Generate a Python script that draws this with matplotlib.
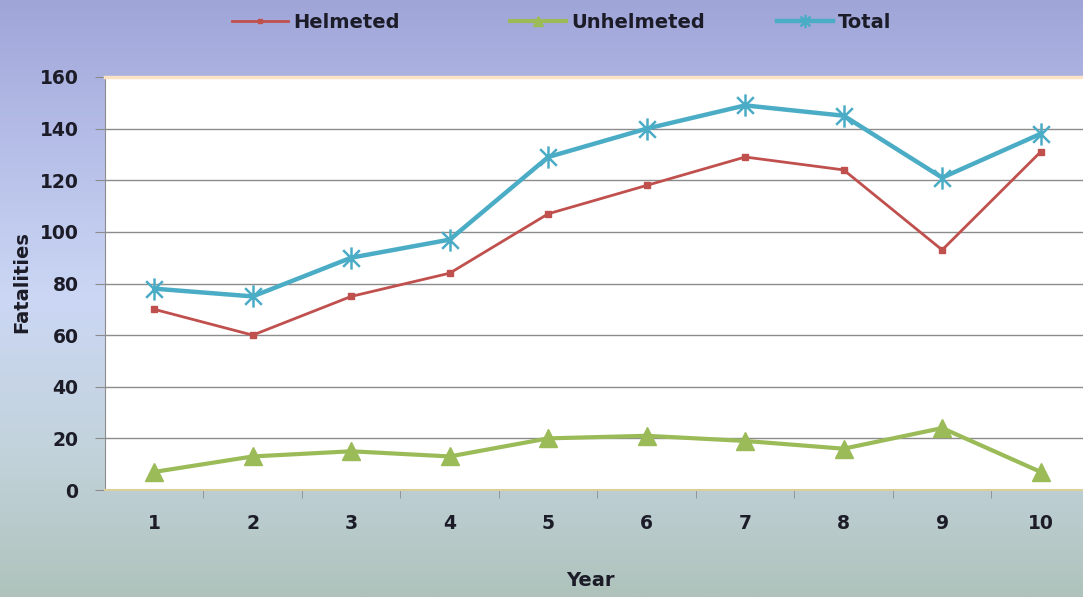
import numpy as np
import matplotlib
matplotlib.use("Agg")
import matplotlib.pyplot as plt
from matplotlib.colors import LinearSegmentedColormap
from matplotlib.path import Path

# data
years = [1, 2, 3, 4, 5, 6, 7, 8, 9, 10]
helmeted = [70, 60, 75, 84, 107, 118, 129, 124, 93, 131]
unhelmeted = [7, 13, 15, 13, 20, 21, 19, 16, 24, 7]
total = [78, 75, 90, 97, 129, 140, 149, 145, 121, 138]
series_names = ["Helmeted", "Unhelmeted", "Total"]

RED = "#c0504d"
GREEN = "#9bbb59"
CYAN = "#4bacc6"
TEXT = "#1c1c28"

# excel style star: vertical bar plus an X
star = Path([(0, -1), (0, 1), (-0.75, -0.75), (0.75, 0.75), (-0.75, 0.75), (0.75, -0.75)],
            [Path.MOVETO, Path.LINETO] * 3)

fig = plt.figure(figsize=(10.83, 5.97), dpi=100)

# background gradient (lavender at top -> pale blue -> grey-green at bottom)
bg = fig.add_axes([0, 0, 1, 1], zorder=-10)
grad = LinearSegmentedColormap.from_list(
    "bg", ["#a0a5d8", "#b6bfe8", "#cbd7f4", "#c3d3dc", "#afc3bc"])
bg.imshow(np.linspace(0, 1, 256).reshape(-1, 1), aspect="auto", cmap=grad,
          extent=[0, 1, 0, 1])
bg.set_xlim(0, 1)
bg.set_ylim(0, 1)
bg.axis("off")

ax = fig.add_axes([105 / 1083, 1 - 490 / 597, 1 - 105 / 1083, 413 / 597])
ax.set_facecolor("white")

l1, = ax.plot(years, helmeted, color=RED, lw=2.0, marker="s", ms=4.5, zorder=3)
l2, = ax.plot(years, unhelmeted, color=GREEN, lw=3.0, marker="^", ms=13, zorder=3)
l3, = ax.plot(years, total, color=CYAN, lw=3.2, marker=star, ms=16, mew=1.8, zorder=4)

ax.set_xlim(0.5, 10.43)
ax.set_ylim(0, 160)
ax.set_yticks(range(0, 161, 20))
ax.set_xticks(years)
ax.set_xticks([y + 0.5 for y in years[:-1]], minor=True)
ax.grid(axis="y", color="#8c8c8c", lw=1.0)
ax.set_axisbelow(True)

ax.tick_params(axis="x", which="major", length=0, pad=17)
ax.tick_params(axis="x", which="minor", length=6, color="#8c8c8c", direction="out")
ax.tick_params(axis="y", length=7, color="#8c8c8c", direction="out", pad=12)
for lab in ax.get_xticklabels() + ax.get_yticklabels():
    lab.set_fontweight("bold")
    lab.set_fontsize(13.5)
    lab.set_color(TEXT)

ax.spines["left"].set_color("#8c8c8c")
ax.spines["bottom"].set_color("#d9cf9a")
ax.spines["bottom"].set_linewidth(1.5)
ax.spines["top"].set_color("#fce3c6")
ax.spines["top"].set_linewidth(2.5)
ax.spines["right"].set_visible(False)

fig.text(22 / 1083, 1 - 282 / 597, "Fatalities", rotation=90, ha="center",
         va="center", fontsize=14, fontweight="bold", color=TEXT)
fig.text(590 / 1083, 1 - 580 / 597, "Year", ha="center", va="center",
         fontsize=14, fontweight="bold", color=TEXT)

# one legend entry per series, placed like the excel legend
legend_x = [232, 510, 777]
for handle, name, x in zip([l1, l2, l3], series_names, legend_x):
    leg = fig.legend([handle], [name], loc="center left",
                     bbox_to_anchor=(x / 1083, 1 - 22 / 597), frameon=False,
                     borderpad=0, borderaxespad=0, handlelength=2.9,
                     handletextpad=0.25, markerscale=0.6,
                     prop={"weight": "bold", "size": 14})
    for t in leg.get_texts():
        t.set_color(TEXT)

fig.savefig("out.png", dpi=100)
